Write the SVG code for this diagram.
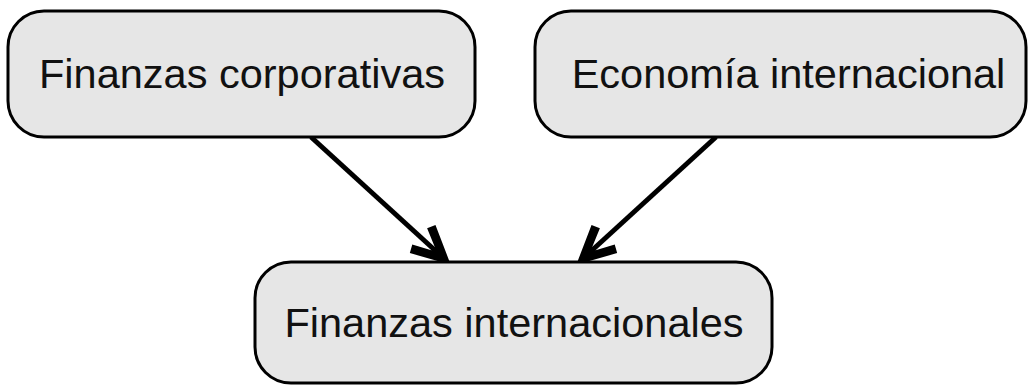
<svg xmlns="http://www.w3.org/2000/svg" width="1028" height="385" viewBox="0 0 1028 385">
<style>
.node rect{fill:#e6e6e6;stroke:#000;stroke-width:3}
.node text{font-family:"Liberation Sans",Arial,sans-serif;font-size:41.5px;fill:#111;text-anchor:middle}
.edge{stroke:#000;stroke-width:5;fill:none}
</style>
<defs>
<marker id="arr" markerUnits="userSpaceOnUse" viewBox="-30 -25 60 50" markerWidth="60" markerHeight="50" refX="0" refY="0" orient="auto" overflow="visible">
<path d="M21,0 L-17,-19 L-21,-11 L-3,-2.5 L-3,2.5 L-21,11 L-17,19 Z" fill="#000"/>
</marker>
</defs>
<rect width="1028" height="385" fill="#fff"/>
<g id="connectors">
<path class="edge" d="M311,137 L435.2,250.5" marker-end="url(#arr)"/>
<path class="edge" d="M716,137 L591.8,250.5" marker-end="url(#arr)"/>
</g>
<g id="node-finanzas-corporativas" class="node">
<rect x="8" y="11" width="467" height="126" rx="36" ry="36"/>
<text x="242" y="88">Finanzas corporativas</text>
</g>
<g id="node-economia-internacional" class="node">
<rect x="535" y="11" width="491" height="126" rx="36" ry="36"/>
<text x="788.5" y="88">Economía internacional</text>
</g>
<g id="node-finanzas-internacionales" class="node">
<rect x="255" y="262" width="517" height="121" rx="36" ry="36"/>
<text x="514" y="337">Finanzas internacionales</text>
</g>
</svg>
